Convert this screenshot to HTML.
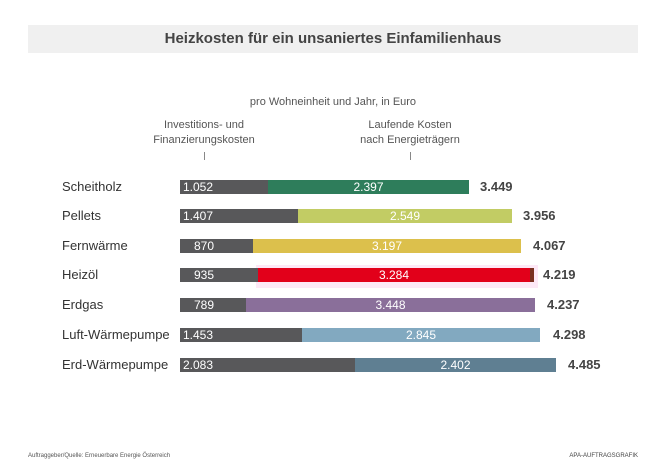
<!DOCTYPE html>
<html><head><meta charset="utf-8"><style>
body{margin:0;width:666px;height:470px;background:#fff;font-family:"Liberation Sans",sans-serif;position:relative;overflow:hidden;color:#444}
.a{position:absolute}
.t{left:28px;top:25px;width:610px;height:28px;background:#f0f0f0;font-weight:bold;font-size:15px;text-align:center;line-height:28px;color:#444}
.bar{position:absolute;height:14px;color:#fff;font-size:12px;line-height:14px}
.lab{position:absolute;left:62px;font-size:13px;color:#333;line-height:14px}
.tot{position:absolute;font-weight:bold;font-size:13px;color:#444;line-height:14px}
.hd{font-size:11px;color:#555;text-align:center;line-height:15px}
</style></head><body>
<div class="a t">Heizkosten für ein unsaniertes Einfamilienhaus</div>
<div class="a" style="left:0;width:666px;top:96px;text-align:center;font-size:11px;color:#555">pro Wohneinheit und Jahr, in Euro</div>
<div class="a hd" style="left:144px;width:120px;top:118px">Investitions- und<br>Finanzierungskosten</div>
<div class="a hd" style="left:350px;width:120px;top:118px">Laufende Kosten<br>nach Energieträgern</div>
<div class="a" style="left:204px;top:152px;width:1px;height:8px;background:#888"></div>
<div class="a" style="left:410px;top:152px;width:1px;height:8px;background:#888"></div>
<div class="a" style="left:256px;top:265px;width:282px;height:23px;background:#fde8f6"></div>

<div class="lab" style="top:180px">Scheitholz</div>
<div class="bar" style="left:180px;top:180px;width:88px;background:#58585a;padding-left:3px;box-sizing:border-box">1.052</div>
<div class="bar" style="left:268px;top:180px;width:201px;background:#2e7d5b;text-align:center">2.397</div>
<div class="tot" style="left:480px;top:180px">3.449</div>

<div class="lab" style="top:209px">Pellets</div>
<div class="bar" style="left:180px;top:209px;width:118px;background:#58585a;padding-left:3px;box-sizing:border-box">1.407</div>
<div class="bar" style="left:298px;top:209px;width:214px;background:#c2cc64;text-align:center">2.549</div>
<div class="tot" style="left:523px;top:209px">3.956</div>

<div class="lab" style="top:239px">Fernwärme</div>
<div class="bar" style="left:180px;top:239px;width:73px;background:#58585a;padding-left:14px;box-sizing:border-box">870</div>
<div class="bar" style="left:253px;top:239px;width:268px;background:#dcc04c;text-align:center">3.197</div>
<div class="tot" style="left:533px;top:239px">4.067</div>

<div class="lab" style="top:268px">Heizöl</div>
<div class="bar" style="left:180px;top:268px;width:78px;background:#58585a;padding-left:14px;box-sizing:border-box">935</div>
<div class="bar" style="left:258px;top:268px;width:276px;background:#e2001a;text-align:center;border-right:4px solid #7a3020;box-sizing:border-box">3.284</div>
<div class="tot" style="left:543px;top:268px">4.219</div>

<div class="lab" style="top:298px">Erdgas</div>
<div class="bar" style="left:180px;top:298px;width:66px;background:#58585a;padding-left:14px;box-sizing:border-box">789</div>
<div class="bar" style="left:246px;top:298px;width:289px;background:#8a6f9a;text-align:center">3.448</div>
<div class="tot" style="left:547px;top:298px">4.237</div>

<div class="lab" style="top:328px">Luft-Wärmepumpe</div>
<div class="bar" style="left:180px;top:328px;width:122px;background:#58585a;padding-left:3px;box-sizing:border-box">1.453</div>
<div class="bar" style="left:302px;top:328px;width:238px;background:#82a9c0;text-align:center">2.845</div>
<div class="tot" style="left:553px;top:328px">4.298</div>

<div class="lab" style="top:358px">Erd-Wärmepumpe</div>
<div class="bar" style="left:180px;top:358px;width:175px;background:#58585a;padding-left:3px;box-sizing:border-box">2.083</div>
<div class="bar" style="left:355px;top:358px;width:201px;background:#5f7f92;text-align:center">2.402</div>
<div class="tot" style="left:568px;top:358px">4.485</div>

<div class="a" style="left:28px;top:453px;font-size:6px;color:#555">Auftraggeber/Quelle: Erneuerbare Energie Österreich</div>
<div class="a" style="left:560px;width:78px;text-align:right;top:453px;font-size:6px;color:#444">APA-AUFTRAGSGRAFIK</div>
</body></html>
